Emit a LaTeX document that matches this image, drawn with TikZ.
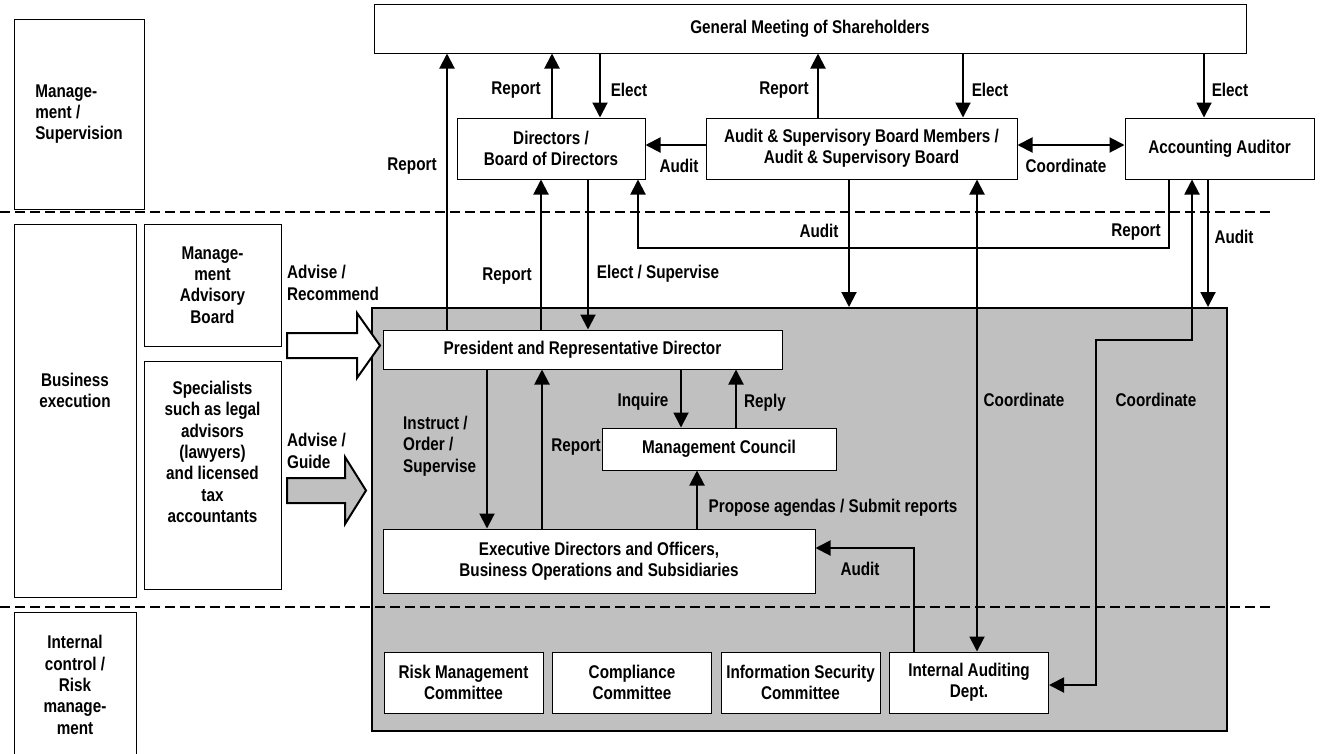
\documentclass[tikz,border=0pt]{standalone}
\usepackage{fontspec}
\setmainfont{Liberation Sans}[FakeStretch=0.83]
\usetikzlibrary{arrows.meta}
\definecolor{panelgray}{RGB}{192,192,192}
\newcommand{\orgfont}{\bfseries\fontsize{18.4}{21.3}\selectfont}

\begin{document}
\begin{tikzpicture}[x=1pt, y=-1pt, node distance=168.5pt, >={Triangle[length=15pt,width=15pt]}]
\tikzstyle{box} = [draw, rectangle, fill=white, line width=1pt, inner sep=0pt, align=center, font=\orgfont]
\tikzstyle{lbl} = [inner sep=0pt, align=left, font=\orgfont]
\tikzstyle{line} = [draw, ->, line width=2pt]
\tikzstyle{dline} = [draw, <->, line width=2pt]
\tikzstyle{zone} = [draw, line width=2pt, dash pattern=on 10pt off 5pt]

\useasboundingbox (0,0) rectangle (1321,753);

% gray panel for business execution
\node [draw, line width=2pt, fill=panelgray, minimum width=855pt, minimum height=423pt] (corp) at (799.5,519.5) {};

% left column
\node [box, minimum width=130pt, minimum height=190pt, align=left] (mansup) at (79,114) {Manage-\\ment /\\Supervision};
\node [box, minimum width=122pt, minimum height=373pt, label={[lbl, align=center, yshift=20pt]center:Business\\execution}] (busexec) at (75,410.5) {};
\node [box, minimum width=122pt, minimum height=146pt] (intctrl) at (75,685) {Internal\\control /\\Risk\\manage-\\ment};
\node [box, minimum width=137pt, minimum height=122pt] (advboard) at (212.5,285) {Manage-\\ment\\Advisory\\Board};
\node [box, minimum width=137pt, minimum height=228pt, label={[lbl, align=center, yshift=23pt]center:Specialists\\such as legal\\advisors\\(lawyers)\\and licensed\\tax\\accountants}] (special) at (212.5,475) {};

% dashed zone borders
\draw [zone] (0,212) -- (1272,212);
\draw [zone] (0,607) -- (1272,607);

% governance bodies
\node [box, minimum width=872pt, minimum height=49pt] (gms) at (810,28.5) {General Meeting of Shareholders};
\node [box, minimum width=188pt, minimum height=61pt] (board) at (551,148.5) {Directors /\\Board of Directors};
\node [box, minimum width=311pt, minimum height=61pt] (asb) at (861.5,148.5) {Audit \& Supervisory Board Members /\\Audit \& Supervisory Board};
\node [box, minimum width=189pt, minimum height=61pt] (auditor) at (1219.5,148.5) {Accounting Auditor};

% execution
\node [box, minimum width=399pt, minimum height=39pt] (pres) at (582.5,349.5) {President and Representative Director};
\node [box, minimum width=234pt, minimum height=42pt] (council) at (719,449) {Management Council};
\node [box, minimum width=432pt, minimum height=64pt] (exec) at (599,561) {Executive Directors and Officers,\\Business Operations and Subsidiaries};

% committees
\node [box, minimum width=159pt, minimum height=61pt] (riskc) at (463.5,682.5) {Risk Management\\Committee};
\node [box, minimum width=159pt, minimum height=61pt, right of=riskc] (compc) {Compliance\\Committee};
\node [box, minimum width=159pt, minimum height=61pt, right of=compc] (infoc) {Information Security\\Committee};
\node [box, minimum width=159pt, minimum height=61pt, right of=infoc] (iad) {Internal Auditing\\Dept.};

% block arrows
\draw [line width=2pt, fill=white] (287,333) -- (357,333) -- (357,313) -- (380,345.5) -- (357,378) -- (357,358) -- (287,358) -- cycle;
\draw [line width=2pt, fill=panelgray] (287,478) -- (345,478) -- (345,457) -- (366,490.5) -- (345,524) -- (345,503) -- (287,503) -- cycle;

% connectors
\path [line] (447,0 |- pres.north) -- (447,0 |- gms.south);
\path [line] (541,0 |- pres.north) -- (541,0 |- board.south);
\path [line] (588,0 |- board.south) -- (588,0 |- pres.north);
\path [line] (552,0 |- board.north) -- (552,0 |- gms.south);
\path [line] (600,0 |- gms.south) -- (600,0 |- board.north);
\path [line] (818,0 |- asb.north) -- (818,0 |- gms.south);
\path [line] (963,0 |- gms.south) -- (963,0 |- asb.north);
\path [line] (1204,0 |- gms.south) -- (1204,0 |- auditor.north);
\path [line] (asb.west |- 0,145) -- (board.east |- 0,145);
\path [dline] (asb.east |- 0,145) -- (auditor.west |- 0,145);
\path [line] (1169,0 |- auditor.south) -- (1169,248) -| (638,0 |- board.south);
\path [line] (849,0 |- asb.south) -- (849,0 |- corp.north);
\path [dline] (977,0 |- asb.south) -- (977,0 |- iad.north);
\path [dline] (1192,0 |- auditor.south) -- (1192,340) -| (1096,685) -- (iad.east |- 0,685);
\path [line] (1208,0 |- auditor.south) -- (1208,0 |- corp.north);
\path [line] (487,0 |- pres.south) -- (487,0 |- exec.north);
\path [line] (542,0 |- exec.north) -- (542,0 |- pres.south);
\path [line] (681,0 |- pres.south) -- (681,0 |- council.north);
\path [line] (736,0 |- council.north) -- (736,0 |- pres.south);
\path [line] (697,0 |- exec.north) -- (697,0 |- council.south);
\path [line] (914,0 |- iad.north) |- (exec.east |- 0,548);

% connector labels
\node [lbl] (lrep1) at (412,166) {Report};
\node [lbl] (lrep2) at (516,90) {Report};
\node [lbl] (lelect1) at (629,90) {Elect};
\node [lbl] (laudit1) at (679,166) {Audit};
\node [lbl] (lrep3) at (784,90) {Report};
\node [lbl] (lelect2) at (990,90) {Elect};
\node [lbl] (lelect3) at (1230,90) {Elect};
\node [lbl] (lcoord1) at (1066,166) {Coordinate};
\node [lbl] (lrep4) at (507,276) {Report};
\node [lbl] (lelsup) at (658,274) {Elect / Supervise};
\node [lbl] (laudit2) at (819,231) {Audit};
\node [lbl] (lrep5) at (1136,232) {Report};
\node [lbl] (laudit3) at (1234,237) {Audit};
\node [lbl] (lcoord2) at (1024,400) {Coordinate};
\node [lbl] (lcoord3) at (1156,400) {Coordinate};
\node [lbl, anchor=west] (linstr) at (403,446) {Instruct /\\Order /\\Supervise};
\node [lbl] (lrep6) at (576,447) {Report};
\node [lbl] (linq) at (643,402) {Inquire};
\node [lbl] (lreply) at (765,403) {Reply};
\node [lbl] (lprop) at (833,508) {Propose agendas / Submit reports};
\node [lbl] (laudit4) at (860,569) {Audit};
\node [lbl, anchor=west] (ladvrec) at (287,283) {Advise /\\Recommend};
\node [lbl, anchor=west] (ladvgui) at (287,451) {Advise /\\Guide};
\end{tikzpicture}
\end{document}
